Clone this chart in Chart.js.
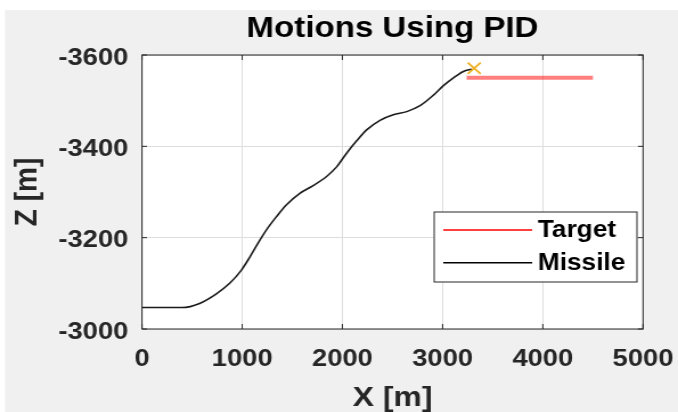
<!DOCTYPE html>
<html>
<head>
<meta charset="utf-8">
<script src="https://cdn.jsdelivr.net/npm/chart.js@4.4.1/dist/chart.umd.min.js"></script>
<style>
  html, body { margin: 0; padding: 0; background: #ffffff; }
</style>
</head>
<body>
<!-- drawn narrower and stretched, the reference is squeezed the same way -->
<canvas id="myChart" width="595" height="412" style="width:678px;height:412px"></canvas>
<script>
const missileX = [0, 400, 575, 742, 875, 992, 1075, 1158, 1242, 1342, 1442, 1575, 1708, 1842, 1942,
  2042, 2142, 2242, 2375, 2508, 2642, 2775, 2908, 3008, 3108, 3208, 3290];
const missileZ = [-3047, -3047, -3056, -3077, -3100, -3129, -3157, -3188, -3217, -3246, -3272, -3297, -3314, -3334, -3355,
  -3385, -3412, -3436, -3457, -3469, -3476, -3489, -3512, -3533, -3550, -3564, -3569];
const targetX = [3240, 4500];
const targetZ = [-3550, -3550];
const hitX = [3315];
const hitZ = [-3571];
const xTicks = [0, 1000, 2000, 3000, 4000, 5000];
const zTicks = [-3600, -3400, -3200, -3000];

const ink = "#262626";
const family = "'Liberation Sans', Arial, Helvetica, sans-serif";

function toPoints(xs, ys) {
  return xs.map((x, i) => ({ x: x, y: ys[i] }));
}

// matlab style frame: grey figure, white axes, box with inward ticks, legend inside
const frame = {
  id: "frame",
  beforeDraw(chart) {
    const c = chart.ctx;
    const a = chart.chartArea;
    c.save();
    c.fillStyle = "#ffffff";
    c.fillRect(0, 0, chart.width, chart.height);
    c.fillStyle = "#f0f0f0";
    c.fillRect(4.4, 10, chart.width, chart.height);
    c.fillStyle = "#ffffff";
    c.fillRect(a.left, a.top, a.right - a.left, a.bottom - a.top);
    c.restore();
  },
  afterDatasetsDraw(chart) {
    const c = chart.ctx;
    const a = chart.chartArea;
    const sx = chart.scales.x;
    const sy = chart.scales.y;
    c.save();
    c.strokeStyle = ink;
    c.lineWidth = 1;
    c.beginPath();
    xTicks.forEach((v) => {
      const px = sx.getPixelForValue(v);
      c.moveTo(px, a.bottom); c.lineTo(px, a.bottom - 5);
      c.moveTo(px, a.top); c.lineTo(px, a.top + 5);
    });
    zTicks.forEach((v) => {
      const py = sy.getPixelForValue(v);
      c.moveTo(a.left, py); c.lineTo(a.left + 4.4, py);
      c.moveTo(a.right, py); c.lineTo(a.right - 4.4, py);
    });
    c.stroke();
    c.strokeRect(a.left, a.top, a.right - a.left, a.bottom - a.top);

    // legend box, bottom right of the axes
    const w = 178, h = 70;
    const left = a.right - 5.3 - w;
    const top = a.bottom - 47 - h;
    c.fillStyle = "#ffffff";
    c.fillRect(left, top, w, h);
    c.strokeStyle = ink;
    c.strokeRect(left, top, w, h);
    const sets = chart.data.datasets.filter((d) => d.legendColor);
    c.font = "bold 23px " + family;
    c.textBaseline = "middle";
    c.textAlign = "left";
    sets.forEach((d, i) => {
      const y = top + 18 + i * 32.7;
      c.strokeStyle = d.legendColor;
      c.lineWidth = 1.5;
      c.beginPath();
      c.moveTo(left + 8, y);
      c.lineTo(left + 86, y);
      c.stroke();
      c.fillStyle = "#000000";
      c.fillText(d.label, left + 91, y + 1);
    });
    c.restore();
  }
};

const plain = (v) => String(v);

const config = {
  type: "scatter",
  data: {
    datasets: [
      {
        label: "",
        data: toPoints(hitX, hitZ),
        pointStyle: "crossRot",
        pointRadius: 8,
        borderColor: "#EDB120",
        pointBorderWidth: 1.8,
        showLine: false
      },
      {
        label: "Target",
        data: toPoints(targetX, targetZ),
        borderColor: "rgba(255, 0, 0, 0.5)",
        borderWidth: 4,
        pointRadius: 0,
        showLine: true,
        legendColor: "#ff0000"
      },
      {
        label: "Missile",
        data: toPoints(missileX, missileZ),
        borderColor: "#1a1a1a",
        borderWidth: 1.6,
        pointRadius: 0,
        showLine: true,
        cubicInterpolationMode: "monotone",
        legendColor: "#000000"
      }
    ]
  },
  options: {
    responsive: false,
    animation: false,
    events: [],
    layout: { padding: { top: 10, left: 4.4, right: 30.7, bottom: 0 } },
    plugins: {
      legend: { display: false },
      tooltip: { enabled: false },
      title: {
        display: true,
        fullSize: false,
        text: "Motions Using PID",
        color: "#000000",
        font: { family: family, size: 29, weight: "bold", lineHeight: 1 },
        padding: { top: 4, bottom: 12 }
      }
    },
    scales: {
      x: {
        type: "linear",
        min: 0,
        max: 5000,
        afterBuildTicks: (s) => { s.ticks = xTicks.map((v) => ({ value: v })); },
        afterFit: (s) => {
          s.height = 83;
          s.paddingLeft = 0;
          s.paddingRight = 0;
        },
        grid: { color: "#dedede", drawTicks: false },
        border: { display: false },
        ticks: {
          padding: 16,
          autoSkip: false,
          maxRotation: 0,
          color: ink,
          callback: plain,
          font: { family: family, size: 24, weight: "bold" }
        },
        title: {
          display: true,
          text: "X [m]",
          color: ink,
          font: { family: family, size: 28, weight: "bold", lineHeight: 1 },
          padding: { top: 0, bottom: 0 }
        }
      },
      y: {
        type: "linear",
        min: -3600,
        max: -3000,
        reverse: true,
        afterBuildTicks: (s) => { s.ticks = zTicks.map((v) => ({ value: v })); },
        afterFit: (s) => {
          s.width = 120.2;
          s.paddingTop = 0;
          s.paddingBottom = 0;
        },
        grid: { color: "#dedede", drawTicks: false },
        border: { display: false },
        ticks: {
          padding: 12,
          labelOffset: 3,
          autoSkip: false,
          color: ink,
          callback: plain,
          font: { family: family, size: 24, weight: "bold" }
        },
        title: {
          display: true,
          text: "Z [m]",
          color: ink,
          font: { family: family, size: 28, weight: "bold", lineHeight: 1 },
          padding: { top: 6.2, bottom: 0 }
        }
      }
    }
  },
  plugins: [frame]
};

const chart = new Chart(document.getElementById("myChart"), config);
</script>
</body>
</html>
